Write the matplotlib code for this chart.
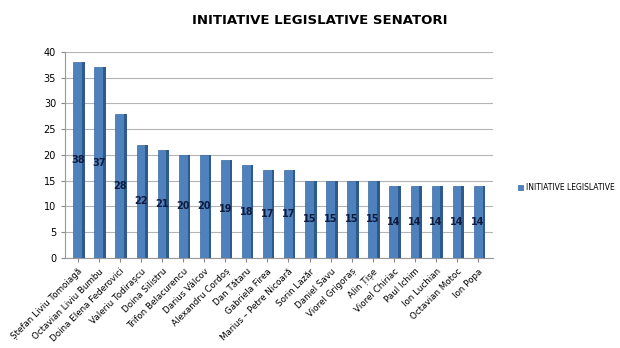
import matplotlib
matplotlib.use("Agg")
import matplotlib.pyplot as plt
import numpy as np

names = ["Ștefan Liviu Tomoiagă", "Octavian Liviu Bumbu", "Doina Elena Federovici",
         "Valeriu Todirașcu", "Doina Silistru", "Trifon Belacurencu", "Darius Vâlcov",
         "Alexandru Cordoș", "Dan Tătaru", "Gabriela Firea", "Marius – Petre Nicoară",
         "Sorin Lazăr", "Daniel Savu", "Viorel Grigoraș", "Alin Țișe", "Viorel Chiriac",
         "Paul Ichim", "Ion Luchian", "Octavian Motoc", "Ion Popa"]
values = [38, 37, 28, 22, 21, 20, 20, 19, 18, 17, 17, 15, 15, 15, 15, 14, 14, 14, 14, 14]
series_name = "INITIATIVE LEGISLATIVE"
title = "INITIATIVE LEGISLATIVE SENATORI"
yticks = [0, 5, 10, 15, 20, 25, 30, 35, 40]

fig = plt.figure(figsize=(6.2, 3.48), dpi=100)
ax = fig.add_axes([0.105, 0.259, 0.69, 0.592])
x = np.arange(len(values))
w = 0.42
bars = ax.bar(x, values, width=w, color="#4F81BD", edgecolor="#3A6AA5", linewidth=0.5,
              zorder=3, label=series_name)
ax.bar(x + w / 2 + 0.06, values, width=0.12, color="#2E5A8E", linewidth=0, zorder=3)
for xi, v in zip(x, values):
    ax.text(xi, v / 2, str(v), ha="center", va="center", fontsize=7,
            color="#0D1B3E", fontweight="bold", zorder=4)

ax.set_ylim(0, 40)
ax.set_yticks(yticks)
ax.set_xlim(-0.6, len(values) - 0.3)
ax.set_xticks(x)
ax.set_xticklabels(names, rotation=45, ha="right", rotation_mode="anchor", fontsize=6.3)
ax.tick_params(axis="y", labelsize=7, length=3, color="#888888")
ax.tick_params(axis="x", length=3, color="#888888")
ax.yaxis.grid(True, color="#B4B4B4", linewidth=0.8, zorder=0)
for s in ["top", "right"]:
    ax.spines[s].set_visible(False)
ax.spines["left"].set_color("#999999")
ax.spines["bottom"].set_color("#999999")

fig.text(0.515, 0.94, title, ha="center", va="center", fontsize=9.5, fontweight="bold")
fig.legend(handles=[bars], labels=[series_name], loc="center left",
           bbox_to_anchor=(0.825, 0.46), frameon=False, fontsize=5.5,
           handlelength=0.6, handleheight=0.6, handletextpad=0.4)
fig.savefig("out.png", dpi=100, facecolor="white")
